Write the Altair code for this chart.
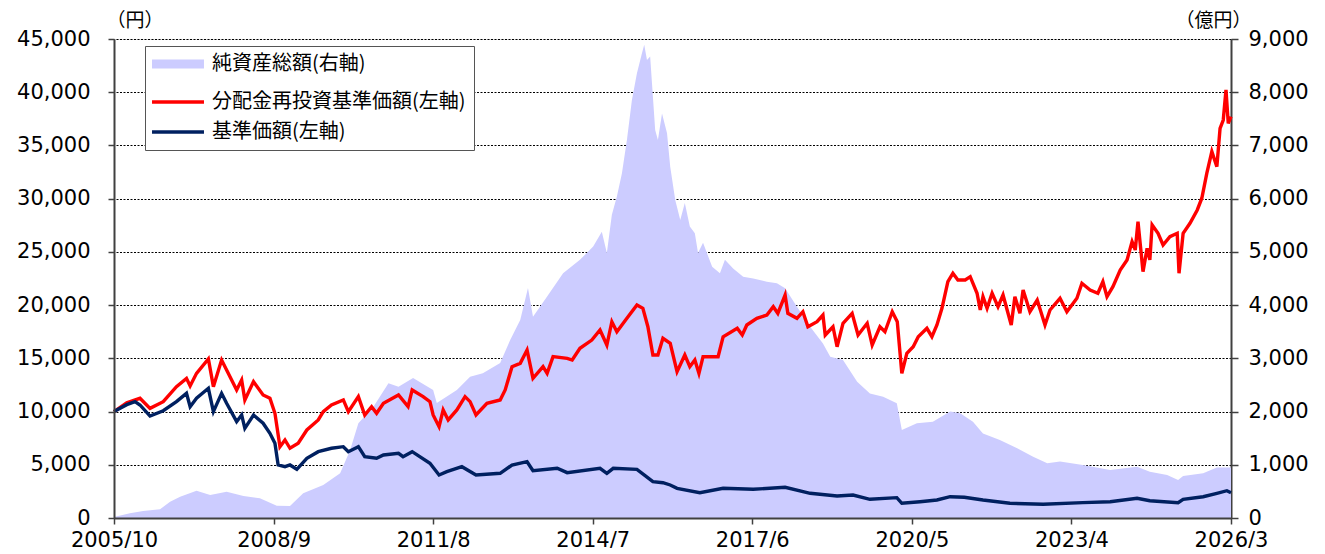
import altair as alt
import pandas as pd

AREA_LABEL = "純資産総額(右軸)"
RED_LABEL = "分配金再投資基準価額(左軸)"
NAVY_LABEL = "基準価額(左軸)"

# time axis: months elapsed since 2005/10
x_tick_values = [0, 35, 70, 105, 140, 175, 210, 245]

red_t = [0, 2.8, 5.7, 7.9, 10.8, 13.7, 15.9, 16.7, 18.1, 20.7,
         21.8, 23.6, 24.7, 26.9, 28.0, 28.7, 30.6, 32.7, 34.2, 35.3,
         36.4, 37.5, 38.6, 40.4, 42.3, 44.8, 45.9, 47.7, 50.3, 51.4,
         53.6, 55.0, 56.5, 57.6, 59.1, 62.4, 64.5, 65.4, 67.8, 69.3,
         70.0, 71.3, 72.2, 73.3, 75.2, 77.0, 78.1, 79.4, 81.8, 84.7,
         85.8, 87.3, 89.1, 90.6, 91.9, 94.1, 95.0, 96.3, 99.4, 100.5,
         102.2, 104.8, 106.6, 108.1, 109.2, 110.3, 112.5, 114.7, 116.0, 117.1,
         118.2, 119.3, 120.4, 122.0, 123.5, 125.2, 126.3, 127.4, 128.3, 129.2,
         132.5, 133.6, 136.7, 137.8, 138.8, 141.0, 143.2, 144.6, 145.6, 147.2,
         147.8, 149.8, 151.1, 152.2, 154.2, 155.5, 156.0, 157.7, 158.6, 159.9,
         161.9, 163.2, 165.2, 166.3, 168.0, 169.1, 170.7, 171.8, 172.8, 173.9,
         175.3, 176.4, 178.3, 179.4, 180.5, 181.6, 182.9, 184.0, 185.1, 186.7,
         187.8, 189.3, 190.0, 190.6, 191.5, 192.6, 193.9, 195.0, 196.8, 197.6,
         198.7, 199.4, 200.9, 202.5, 204.2, 205.3, 207.5, 209.0, 211.2, 212.3,
         214.1, 215.8, 216.9, 217.8, 219.1, 220.7, 222.2, 223.3, 224.0, 224.6,
         225.7, 226.6, 227.2, 227.7, 229.0, 230.1, 231.6, 233.2, 233.6, 234.5,
         236.0, 237.6, 238.6, 239.7, 240.8, 241.9, 242.6, 243.3, 243.9, 244.4,
         245.0]
red_v = [10000, 10830, 11245, 10300, 10930, 12340, 13120, 12400, 13590, 14940,
         12340, 14840, 13900, 12030, 12965, 11090, 12810, 11560, 11245, 9835,
         6700, 7330, 6550, 7020, 8270, 9210, 9990, 10620, 11090, 9990,
         11400, 9680, 10460, 9835, 10780, 11560, 10460, 12030, 11400, 10930,
         9680, 8580, 10150, 9210, 10150, 11400, 10930, 9680, 10780, 11090,
         12030, 14215, 14530, 15780, 13125, 14215, 13590, 15155, 15000, 14840,
         15940, 16720, 17660, 16250, 18440, 17500, 18760, 20010, 19700, 17970,
         15310, 15310, 16880, 16410, 13745, 15310, 14215, 14840, 13590, 15155,
         15155, 17030, 17820, 17190, 18130, 18760, 19070, 19850, 19230, 20950,
         19230, 18760, 19380, 17970, 18440, 19070, 17190, 17970, 16090, 18290,
         19230, 17190, 18290, 16250, 17970, 17500, 19380, 18440, 13590, 15470,
         16090, 17030, 17820, 17030, 18130, 19700, 22200, 22990, 22360, 22360,
         22670, 21110, 19540, 20790, 19700, 21110, 19850, 20950, 18130, 20790,
         19230, 21420, 19380, 20480, 18130, 19540, 20640, 19380, 20640, 22050,
         21420, 21110, 22200, 20790, 21730, 23300, 24240, 25960, 25180, 27840,
         23140, 25340, 24240, 27530, 26750, 25650, 26430, 26750, 22990, 26750,
         27690, 28940, 30040, 32390, 34420, 33000, 36610, 37390, 40210, 37080,
         37700]

navy_t = [0, 2.8, 4.6, 5.7, 7.9, 10.8, 13.7, 15.9, 16.7, 18.1,
          20.7, 21.8, 23.6, 24.7, 26.9, 28.0, 28.7, 30.6, 32.7, 34.2,
          35.3, 36.0, 37.5, 38.6, 40.1, 42.3, 44.8, 47.7, 50.3, 51.4,
          53.6, 55.0, 57.6, 59.1, 62.4, 63.4, 65.4, 69.3, 71.3, 73.0,
          76.3, 79.4, 84.7, 87.3, 90.6, 91.9, 97.2, 99.4, 106.6, 108.1,
          109.5, 114.7, 118.2, 120.4, 122.0, 123.5, 128.5, 133.6, 140.2, 147.2,
          152.7, 158.6, 162.1, 165.8, 171.7, 172.8, 176.8, 180.5, 183.4, 186.5,
          190.6, 196.5, 203.8, 212.5, 218.5, 224.4, 227.2, 233.4, 234.5, 238.9,
          241.9, 244.1, 245.0]
navy_v = [10000, 10650, 10930, 10620, 9580, 10080, 10930, 11710, 10460, 11245,
          12185, 9990, 11710, 10780, 9050, 9680, 8425, 9680, 8900, 7960,
          7020, 4980, 4820, 4980, 4575, 5610, 6230, 6550, 6700, 6230,
          6700, 5760, 5610, 5920, 6080, 5760, 6230, 5140, 4040, 4350,
          4820, 4040, 4200, 4980, 5290, 4445, 4670, 4260, 4670, 4200,
          4670, 4575, 3410, 3315, 3100, 2790, 2380, 2790, 2695, 2885,
          2320, 2070, 2160, 1755, 1910, 1380, 1530, 1690, 2000, 1950,
          1690, 1380, 1290, 1440, 1530, 1850, 1625, 1440, 1755, 2000,
          2320, 2565, 2380]

area_t = [0.2, 3.5, 6.4, 10.1, 12.3, 14.5, 18.1, 21.1, 24.7, 28.4,
          32.0, 35.7, 38.6, 41.5, 45.9, 49.6, 51.8, 53.6, 56.9, 60.2,
          62.4, 65.6, 70.0, 70.8, 75.2, 78.1, 80.9, 84.7, 86.9, 89.1,
          90.8, 91.9, 95.0, 98.5, 102.2, 105.1, 107.0, 108.1, 109.2, 110.3,
          111.4, 112.5, 113.6, 114.7, 115.8, 116.3, 116.9, 117.6, 118.0, 118.7,
          119.3, 120.2, 121.3, 122.0, 123.1, 124.2, 125.2, 126.3, 127.4, 128.1,
          129.2, 131.2, 132.9, 134.0, 135.8, 138.0, 140.2, 143.2, 145.4, 147.2,
          149.8, 152.7, 155.5, 157.1, 159.9, 163.0, 165.8, 168.7, 171.7, 172.8,
          176.1, 179.6, 183.4, 185.6, 188.4, 190.6, 194.3, 198.1, 201.6, 204.7,
          207.5, 212.5, 218.5, 224.4, 227.2, 231.0, 233.4, 234.5, 238.9, 241.9,
          245.0]
area_v = [25, 88, 130, 163, 306, 400, 513, 432, 494, 413,
          370, 231, 225, 464, 620, 840, 1278, 1780, 2090, 2530,
          2467, 2630, 2405, 2160, 2405, 2655, 2720, 2910, 3345, 3720,
          4320, 3780, 4160, 4600, 4850, 5100, 5380, 4980, 5700, 6040,
          6475, 7100, 7855, 8355, 8730, 8890, 8605, 8670, 8170, 7290,
          7100, 7600, 7230, 6600, 5975, 5600, 5920, 5475, 5350, 4980,
          5170, 4720, 4600, 4850, 4690, 4535, 4500, 4440, 4410, 4315,
          3970, 3595, 3280, 3030, 2970, 2560, 2340, 2280, 2155, 1655,
          1780, 1810, 2000, 1970, 1810, 1590, 1465, 1310, 1150, 1030,
          1060, 995, 900, 965, 870, 810, 715, 790, 840, 950,
          950]

left_ticks = list(range(0, 45001, 5000))
right_ticks = list(range(0, 9001, 1000))

red_df = pd.DataFrame({"t": red_t, "v": red_v, "series": RED_LABEL})
navy_df = pd.DataFrame({"t": navy_t, "v": navy_v, "series": NAVY_LABEL})
area_df = pd.DataFrame({"t": area_t, "v": area_v, "series": AREA_LABEL})

NUM_FONT = "DejaVu Sans"
JP_FONT = "Noto Sans CJK JP"
AXIS_COLOR = "#404040"

x_enc = alt.X(
    "t:Q",
    scale=alt.Scale(domain=[0, 245], nice=False, zero=False),
    axis=alt.Axis(
        values=x_tick_values,
        labelExpr="(floor((datum.value + 9) / 12) + 2005) + '/' + ((datum.value + 9) % 12 + 1)",
        title=None, grid=False, tickSize=6, labelPadding=5,
        labelFont=NUM_FONT, labelFontSize=21, labelColor="#000",
        domainColor=AXIS_COLOR, domainWidth=2, tickColor=AXIS_COLOR, tickWidth=1.5,
        labelFlush=False, labelOverlap=False, zindex=1,
    ),
)

area = alt.Chart(area_df).mark_area(color="#ccccff", opacity=1).encode(
    x=x_enc,
    y=alt.Y(
        "v:Q",
        scale=alt.Scale(domain=[0, 9000], nice=False),
        axis=alt.Axis(
            orient="right", values=right_ticks, format=",d",
            grid=True, gridColor="#000", gridDash=[2, 1.5], gridWidth=1,
            title="（億円）", titleAngle=0, titleX=20, titleY=-13,
            titleAlign="right", titleBaseline="alphabetic",
            titleFont=JP_FONT, titleFontSize=19, titleFontWeight="normal", titleColor="#000",
            labelFont=NUM_FONT, labelFontSize=21, labelColor="#000", labelPadding=10,
            tickSize=7, domainColor=AXIS_COLOR, domainWidth=2, tickColor=AXIS_COLOR, tickWidth=1.5,
        ),
    ),
)

color_scale = alt.Scale(
    domain=[AREA_LABEL, RED_LABEL, NAVY_LABEL],
    range=["#ccccff", "#ff0000", "#002060"],
)
legend = alt.Legend(
    title=None, orient="none", legendX=31, legendY=7, direction="vertical",
    symbolType="stroke", symbolSize=2700, symbolOffset=15,
    symbolStrokeWidth=alt.ExprRef(f"datum.value == '{AREA_LABEL}' ? 9 : 3.5"),
    labelFont=JP_FONT, labelFontSize=20, labelColor="#000", labelLimit=500,
    labelOffset=24, rowPadding=10, padding=8,
    fillColor="white", strokeColor="#555",
)

y_left = alt.Y(
    "v:Q",
    scale=alt.Scale(domain=[0, 45000], nice=False),
    axis=alt.Axis(
        orient="left", values=left_ticks, format=",d", grid=False,
        title="（円）", titleAngle=0, titleX=-8, titleY=-13,
        titleAlign="left", titleBaseline="alphabetic",
        titleFont=JP_FONT, titleFontSize=19, titleFontWeight="normal", titleColor="#000",
        labelFont=NUM_FONT, labelFontSize=21, labelColor="#000", labelPadding=18,
        tickSize=6, domainColor=AXIS_COLOR, domainWidth=2, tickColor=AXIS_COLOR, tickWidth=1.5,
        zindex=1,
    ),
)

red = alt.Chart(red_df).mark_line(strokeWidth=3.4).encode(
    x=x_enc, y=y_left,
    color=alt.Color("series:N", scale=color_scale, legend=legend),
)
navy = alt.Chart(navy_df).mark_line(strokeWidth=3.4).encode(
    x=x_enc, y=y_left,
    color=alt.Color("series:N", scale=color_scale, legend=legend),
)
lines = alt.layer(red, navy)

chart = alt.layer(area, lines).resolve_scale(y="independent").properties(
    width=1117, height=479,
    autosize=alt.AutoSizeParams(type="none"),
    padding={"left": 106, "top": 31, "right": 80, "bottom": 30},
).configure_view(
    stroke="#a6a6a6", strokeWidth=2,
).configure(background="white")

chart.save("out.html", embed_options={"renderer": "svg", "actions": False})
